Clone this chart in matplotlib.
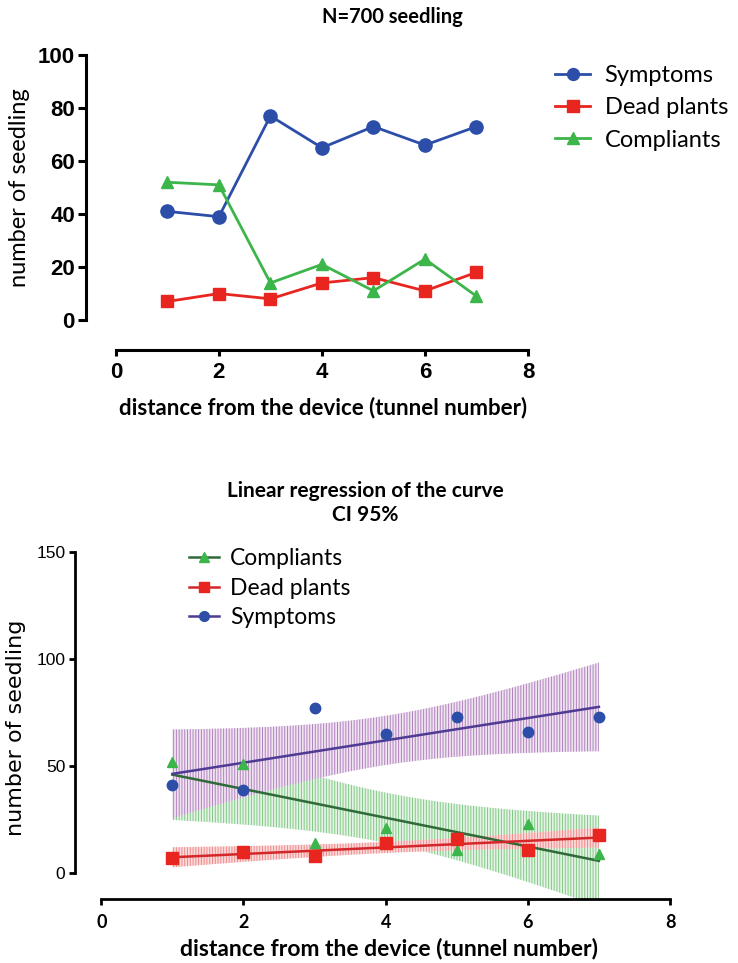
"""
Seedling counts vs distance from the device, raw curves and linear fits (CI 95%).
Output: out.png
"""
import numpy as np
import matplotlib
matplotlib.use("Agg")
import matplotlib.pyplot as plt
from matplotlib.lines import Line2D

plt.rcParams["font.family"] = ["Lato", "DejaVu Sans"]
plt.rcParams["hatch.linewidth"] = 0.7

# data
tunnel = [1, 2, 3, 4, 5, 6, 7]
symptoms = [41, 39, 77, 65, 73, 66, 73]
dead_plants = [7, 10, 8, 14, 16, 11, 18]
compliants = [52, 51, 14, 21, 11, 23, 9]

top_yticks = [0, 20, 40, 60, 80, 100]
bottom_yticks = [0, 50, 100, 150]
xticks = [0, 2, 4, 6, 8]

T95_DF5 = 2.5706  # two-sided t critical value, n-2 = 5

BLUE = "#2c4ea8"
RED = "#e8251f"
GREEN = "#3cb54a"
PURPLE_LINE = "#4f3a94"
PURPLE_BAND = "#b083bd"
GREEN_LINE = "#2f6a38"
GREEN_BAND = "#80c986"
RED_LINE = "#d3272a"
RED_BAND = "#f08a8a"

ARIAL = ["Liberation Sans", "DejaVu Sans"]

fig = plt.figure(figsize=(7.38, 9.63), dpi=100)
W, H = 738.0, 963.0


def fig_rect(left, top, right, bottom):
    return [left / W, 1 - bottom / H, (right - left) / W, (bottom - top) / H]


# ---------------- top panel ----------------
ax1 = fig.add_axes(fig_rect(86, 55, 528, 350))
ax1.plot(tunnel, symptoms, "-o", color=BLUE, lw=2.0, ms=9.5, label="Symptoms", clip_on=False)
ax1.plot(tunnel, dead_plants, "-s", color=RED, lw=2.0, ms=9, label="Dead plants", clip_on=False)
ax1.plot(tunnel, compliants, "-^", color=GREEN, lw=2.0, ms=9, label="Compliants", clip_on=False)
ax1.set_xlim(-0.58, 8)
ax1.set_ylim(-11.3, 100)
for s in ("top", "right"):
    ax1.spines[s].set_visible(False)
ax1.spines["left"].set_bounds(0, 100)
ax1.spines["bottom"].set_bounds(0, 8)
for s in ("left", "bottom"):
    ax1.spines[s].set_linewidth(2.2)
ax1.set_yticks(top_yticks)
ax1.set_xticks(xticks)
ax1.tick_params(axis="y", length=6, width=2.2, pad=2)
ax1.tick_params(axis="x", length=4, width=2.2, pad=5)
for lab in ax1.get_yticklabels() + ax1.get_xticklabels():
    lab.set_family(ARIAL)
    lab.set_fontweight("bold")
    lab.set_fontsize(16)
ax1.set_ylabel("number of seedling", fontsize=17)
ax1.yaxis.set_label_coords(20 / W, 1 - 188 / H, transform=fig.transFigure)
ax1.yaxis.label.set_va("center")
ax1.set_xlabel("distance from the device (tunnel number)", fontsize=16, fontweight="bold")
ax1.xaxis.set_label_coords(323 / W, 1 - 408 / H, transform=fig.transFigure)
ax1.xaxis.label.set_va("center")
fig.text(392 / W, 1 - 17 / H, "N=700 seedling", ha="center", va="center",
         fontsize=14.5, fontweight="bold")
fig.legend(handles=ax1.get_lines(), loc="upper left",
           bbox_to_anchor=(555 / W, 1 - 65 / H), bbox_transform=fig.transFigure,
           frameon=False, fontsize=17, handlelength=1.5, handletextpad=0.6,
           labelspacing=0.48, borderpad=0, borderaxespad=0, markerscale=0.9)

# ---------------- bottom panel ----------------
ax2 = fig.add_axes(fig_rect(75, 552, 670, 899))
x = np.array(tunnel, dtype=float)
xs = np.linspace(x.min(), x.max(), 200)


def fit_band(y):
    y = np.asarray(y, dtype=float)
    slope, icept = np.polyfit(x, y, 1)
    resid = y - (slope * x + icept)
    s = np.sqrt(np.sum(resid ** 2) / (len(x) - 2))
    sxx = np.sum((x - x.mean()) ** 2)
    fit = slope * xs + icept
    half = T95_DF5 * s * np.sqrt(1 / len(x) + (xs - x.mean()) ** 2 / sxx)
    return fit, fit - half, fit + half


# band drawing order: green under red, purple on top
series = [
    (compliants, GREEN_BAND, "#e6f4e6", GREEN_LINE, GREEN, "^", 7),
    (dead_plants, RED_BAND, "#fadada", RED_LINE, RED, "s", 8),
    (symptoms, PURPLE_BAND, "#f0e4f2", PURPLE_LINE, BLUE, "o", 7.5),
]
for y, band_c, face_c, line_c, mk_c, mk, ms in series:
    fit, lo, hi = fit_band(y)
    ax2.fill_between(xs, lo, hi, facecolor=face_c, edgecolor=band_c, hatch="||||||",
                     linewidth=0, zorder=1)
for y, band_c, face_c, line_c, mk_c, mk, ms in series:
    fit, lo, hi = fit_band(y)
    ax2.plot(xs, fit, color=line_c, lw=1.8, zorder=3)
    ax2.plot(tunnel, y, mk, color=mk_c, ms=ms, ls="none", zorder=4, clip_on=False)

ax2.set_xlim(-0.37, 8)
ax2.set_ylim(-12.1, 150)
for s in ("top", "right"):
    ax2.spines[s].set_visible(False)
ax2.spines["left"].set_bounds(0, 150)
ax2.spines["bottom"].set_bounds(0, 8)
for s in ("left", "bottom"):
    ax2.spines[s].set_linewidth(2.0)
ax2.set_yticks(bottom_yticks)
ax2.set_xticks(xticks)
ax2.tick_params(axis="y", length=4, width=2.0, pad=3)
ax2.tick_params(axis="x", length=4, width=2.0, pad=7)
for lab in ax2.get_yticklabels():
    lab.set_family(ARIAL)
    lab.set_fontsize(12.5)
for lab in ax2.get_xticklabels():
    lab.set_fontweight("bold")
    lab.set_fontsize(13)
ax2.set_ylabel("number of seedling", fontsize=16, family=["DejaVu Sans"])
ax2.yaxis.set_label_coords(16 / W, 1 - 728 / H, transform=fig.transFigure)
ax2.yaxis.label.set_va("center")
ax2.set_xlabel("distance from the device (tunnel number)", fontsize=16.5, fontweight="bold")
ax2.xaxis.set_label_coords(389 / W, 1 - 948 / H, transform=fig.transFigure)
ax2.xaxis.label.set_va("center")
fig.text(365 / W, 1 - 503 / H, "Linear regression of the curve\nCI 95%", ha="center",
         va="center", fontsize=15, fontweight="bold", linespacing=1.3)

legend_handles = [
    Line2D([], [], color=GREEN_LINE, lw=1.8, marker="^", mfc=GREEN, mec=GREEN, ms=7),
    Line2D([], [], color=RED_LINE, lw=1.8, marker="s", mfc=RED, mec=RED, ms=7),
    Line2D([], [], color=PURPLE_LINE, lw=1.8, marker="o", mfc=BLUE, mec=BLUE, ms=7),
]
fig.legend(handles=legend_handles, labels=["Compliants", "Dead plants", "Symptoms"],
           loc="upper left", bbox_to_anchor=(189 / W, 1 - 548 / H),
           bbox_transform=fig.transFigure, frameon=False, fontsize=16.5,
           handlelength=1.3, handletextpad=0.5, labelspacing=0.38,
           borderpad=0, borderaxespad=0)

fig.savefig("out.png", dpi=100)
